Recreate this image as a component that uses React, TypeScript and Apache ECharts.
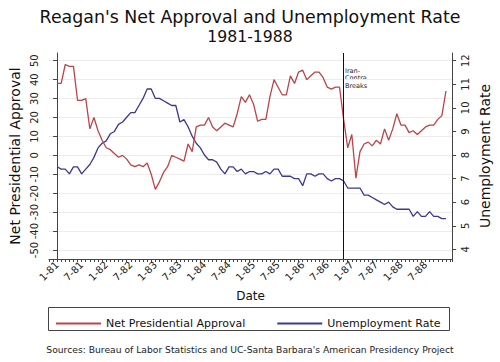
import React, { useEffect, useRef } from "react";
import * as echarts from "echarts";

// Monthly values, Jan 1981 (index 0) .. Dec 1988 (index 95)
const approval: number[] = [
  38, 38, 48, 47, 47, 29, 29, 30, 14, 20, 13, 8,
  4, 3, 1, -1, 0, -2, -5, -6, -5, -6, -4, -10,
  -18, -14, -9, -6, 0, -1, -2, -3, 6, 2, 15, 16,
  16, 20, 15, 13, 15, 17, 16, 15, 22, 31, 28, 32,
  27, 18, 19, 19, 31, 40, 36, 32, 32, 42, 38, 44,
  45, 40, 42, 44, 44, 41, 36, 35, 36, 36, 19, 4,
  11, -12, 2, 6, 7, 5, 8, 6, 14, 8, 14, 22,
  16, 16, 12, 13, 11, 13, 15, 16, 16, 19, 21, 34,
];

const unemployment: number[] = [
  7.5, 7.4, 7.4, 7.2, 7.5, 7.5, 7.2, 7.4, 7.6, 7.9, 8.3, 8.5,
  8.6, 8.9, 9.0, 9.3, 9.4, 9.6, 9.8, 9.8, 10.1, 10.4, 10.8, 10.8,
  10.4, 10.4, 10.3, 10.2, 10.1, 10.1, 9.4, 9.5, 9.2, 8.8, 8.5, 8.3,
  8.0, 7.8, 7.8, 7.7, 7.4, 7.2, 7.5, 7.5, 7.3, 7.4, 7.2, 7.3,
  7.3, 7.2, 7.2, 7.3, 7.2, 7.4, 7.4, 7.1, 7.1, 7.1, 7.0, 7.0,
  6.7, 7.2, 7.2, 7.1, 7.2, 7.2, 7.0, 6.9, 7.0, 7.0, 6.9, 6.6,
  6.6, 6.6, 6.6, 6.3, 6.3, 6.2, 6.1, 6.0, 5.9, 6.0, 5.8, 5.7,
  5.7, 5.7, 5.7, 5.4, 5.6, 5.4, 5.4, 5.6, 5.4, 5.4, 5.3, 5.3,
];

const approvalTicks: number[] = [-50, -40, -30, -20, -10, 0, 10, 20, 30, 40, 50];
const unemploymentTicks: number[] = [4, 5, 6, 7, 8, 9, 10, 11, 12];
const iranContraMonth = 70; // Nov 1986

const FONT = "DejaVu Sans";

export default function App() {
  const ref = useRef<HTMLDivElement>(null);

  useEffect(() => {
    if (!ref.current) return;
    const chart = echarts.init(ref.current, null, { renderer: "svg" });

    const xLabel = (v: number) => {
      if (v < 0 || v > 95 || v % 6 !== 0) return "";
      const yr = 81 + Math.floor(v / 12);
      return (v % 12 === 0 ? "1" : "7") + "-" + yr;
    };

    chart.setOption({
      animation: false,
      backgroundColor: "#ffffff",
      textStyle: { fontFamily: FONT, color: "#111" },
      title: {
        text: "Reagan's Net Approval and Unemployment Rate",
        subtext: "1981-1988",
        left: "center",
        top: 3,
        itemGap: 3,
        textStyle: { fontFamily: FONT, fontSize: 17.4, fontWeight: "normal", color: "#111" },
        subtextStyle: { fontFamily: FONT, fontSize: 15.7, color: "#111" },
      },
      grid: { left: 44, right: 46, top: 53, bottom: 103, containLabel: false },
      legend: {
        left: 51,
        top: 313,
        itemWidth: 45,
        itemHeight: 2,
        itemGap: 32,
        icon: "rect",
        textStyle: { fontFamily: FONT, fontSize: 11, color: "#111" },
        data: ["Net Presidential Approval", "Unemployment Rate"],
      },
      xAxis: {
        type: "value",
        min: -2,
        max: 96.5,
        interval: 1,
        name: "Date",
        nameLocation: "middle",
        nameGap: 28,
        nameTextStyle: { fontFamily: FONT, fontSize: 12, color: "#111" },
        axisLine: { show: true, onZero: false, lineStyle: { color: "#444" } },
        axisTick: { show: true, length: 3, lineStyle: { color: "#444" } },
        axisLabel: {
          rotate: 45,
          fontSize: 10,
          margin: 4,
          color: "#222",
          formatter: xLabel,
          showMinLabel: true,
          showMaxLabel: true,
        },
        splitLine: { show: false },
      },
      yAxis: [
        {
          type: "value",
          position: "left",
          min: -54.75,
          max: 54.07,
          name: "Net Presidential Approval",
          nameLocation: "middle",
          nameRotate: 90,
          nameGap: 25,
          nameTextStyle: { fontFamily: FONT, fontSize: 14, color: "#111" },
          axisLine: { show: true, lineStyle: { color: "#444" } },
          axisTick: { show: true, length: 4, customValues: approvalTicks, lineStyle: { color: "#444" } },
          axisLabel: { rotate: 90, fontSize: 10, margin: 9, color: "#222", customValues: approvalTicks },
          splitLine: { show: true, lineStyle: { color: "#ececec", width: 1 } },
        },
        {
          type: "value",
          position: "right",
          min: 3.59,
          max: 12.327,
          name: "Unemployment Rate",
          nameLocation: "middle",
          nameRotate: 90,
          nameGap: 21,
          nameTextStyle: { fontFamily: FONT, fontSize: 14, color: "#111" },
          axisLine: { show: true, lineStyle: { color: "#444" } },
          axisTick: { show: true, length: 4, customValues: unemploymentTicks, lineStyle: { color: "#444" } },
          axisLabel: { rotate: 90, fontSize: 10, margin: 8, color: "#222", customValues: unemploymentTicks },
          splitLine: { show: false },
        },
      ],
      series: [
        {
          name: "Net Presidential Approval",
          type: "line",
          yAxisIndex: 0,
          showSymbol: false,
          symbol: "none",
          color: "#b8454a",
          lineStyle: { color: "#b8454a", width: 1.3 },
          data: approval.map((v, i) => [i, v]),
          markLine: {
            silent: true,
            symbol: "none",
            label: { show: false },
            lineStyle: { color: "#111", width: 1, type: "solid" },
            data: [{ xAxis: iranContraMonth }],
          },
          z: 3,
        },
        {
          name: "Unemployment Rate",
          type: "line",
          yAxisIndex: 1,
          showSymbol: false,
          symbol: "none",
          color: "#3a3a8c",
          lineStyle: { color: "#3a3a8c", width: 1.3 },
          data: unemployment.map((v, i) => [i, v]),
          z: 2,
        },
      ],
      graphic: [
        {
          type: "text",
          left: 345,
          top: 67,
          style: {
            text: "Iran-\nContra\nBreaks",
            fontFamily: FONT,
            fontSize: 6.5,
            lineHeight: 7.5,
            fill: "#222",
          },
        },
        {
          type: "rect",
          shape: { x: 48.5, y: 307.5, width: 401, height: 23 },
          style: { fill: "none", stroke: "#444", lineWidth: 1 },
        },
        {
          type: "text",
          left: "center",
          top: 345,
          style: {
            text: "Sources: Bureau of Labor Statistics and UC-Santa Barbara's American Presidency Project",
            fontFamily: FONT,
            fontSize: 9.2,
            fill: "#222",
          },
        },
      ],
    });

    return () => chart.dispose();
  }, []);

  return (
    <div
      ref={ref}
      style={{ position: "absolute", left: 0, top: 0, width: 500, height: 362 }}
    />
  );
}
